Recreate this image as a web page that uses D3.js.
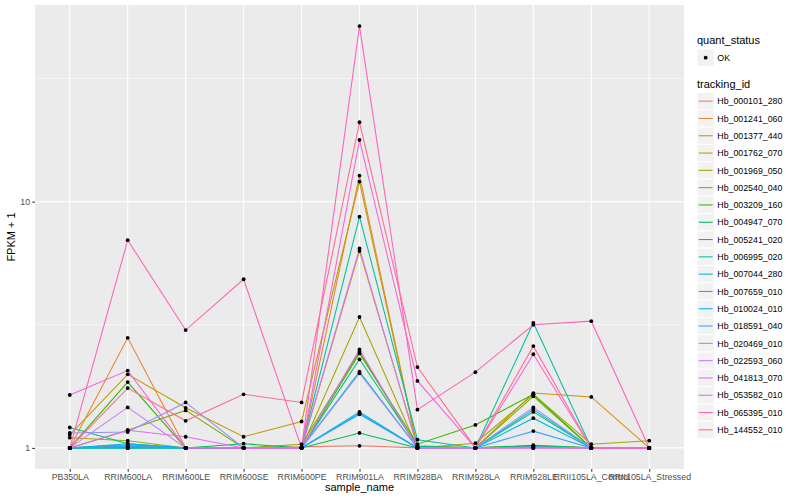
<!DOCTYPE html>
<html>
<head>
<meta charset="utf-8">
<script src="https://cdn.jsdelivr.net/npm/d3@7"></script>
<style>
  html, body { margin: 0; padding: 0; background: #fff; }
  svg text { font-family: "Liberation Sans", Arial, Helvetica, sans-serif; }
</style>
</head>
<body>
<svg id="chart" width="800" height="500"></svg>
<script>
// Samples along the x axis.
const samples = ['PB350LA', 'RRIM600LA', 'RRIM600LE', 'RRIM600SE', 'RRIM600PE', 'RRIM901LA',
  'RRIM928BA', 'RRIM928LA', 'RRIM928LE', 'RRII105LA_Control', 'RRII105LA_Stressed'];

const trackingIds = ['Hb_000101_280', 'Hb_001241_060', 'Hb_001377_440', 'Hb_001762_070', 'Hb_001969_050',
  'Hb_002540_040', 'Hb_003209_160', 'Hb_004947_070', 'Hb_005241_020', 'Hb_006995_020',
  'Hb_007044_280', 'Hb_007659_010', 'Hb_010024_010', 'Hb_018591_040', 'Hb_020469_010',
  'Hb_022593_060', 'Hb_041813_070', 'Hb_053582_010', 'Hb_065395_010', 'Hb_144552_010'];

// ggplot's default hue palette for 20 groups.
const trackingColors = ['#F8766D', '#EA8331', '#D89000', '#C09B00', '#A3A500', '#7CAE00', '#39B600',
  '#00BB4E', '#00BF7D', '#00C1A3', '#00BFC4', '#00BAE0', '#00B0F6', '#35A2FF', '#9590FF',
  '#C77CFF', '#E76BF3', '#FA62DB', '#FF62BC', '#FF6C91'];

// FPKM + 1, one row per tracking_id, one column per sample.
const fpkmPlusOne = [
  [1.00, 1.00, 1.00, 1.00, 1.01, 1.02, 1.00, 1.00, 1.00, 1.00, 1.00],
  [1.00, 2.80, 1.00, 1.00, 1.00, 12.76, 1.00, 1.00, 1.01, 1.00, 1.00],
  [1.00, 1.02, 1.00, 1.00, 1.00, 6.30, 1.02, 1.00, 1.67, 1.61, 1.00],
  [1.13, 1.99, 1.455, 1.11, 1.28, 12.06, 1.00, 1.00, 1.02, 1.00, 1.00],
  [1.10, 1.07, 1.00, 1.00, 1.00, 3.40, 1.00, 1.045, 1.65, 1.035, 1.07],
  [1.00, 1.18, 1.42, 1.00, 1.035, 2.46, 1.00, 1.00, 1.62, 1.00, 1.00],
  [1.00, 1.85, 1.00, 1.00, 1.00, 2.42, 1.035, 1.24, 1.65, 1.00, 1.00],
  [1.00, 1.00, 1.00, 1.04, 1.00, 1.15, 1.00, 1.00, 1.025, 1.00, 1.00],
  [1.21, 1.04, 1.00, 1.00, 1.00, 2.29, 1.016, 1.00, 1.40, 1.00, 1.00],
  [1.00, 1.00, 1.00, 1.00, 1.00, 8.69, 1.08, 1.00, 3.22, 1.00, 1.00],
  [1.00, 1.00, 1.00, 1.00, 1.00, 2.04, 1.00, 1.00, 1.43, 1.00, 1.00],
  [1.00, 1.04, 1.00, 1.00, 1.00, 1.40, 1.00, 1.00, 1.32, 1.00, 1.00],
  [1.00, 1.03, 1.00, 1.00, 1.00, 1.38, 1.00, 1.00, 1.01, 1.00, 1.00],
  [1.00, 1.016, 1.00, 1.00, 1.00, 1.37, 1.00, 1.00, 1.17, 1.00, 1.00],
  [1.15, 1.16, 1.53, 1.00, 1.00, 2.01, 1.00, 1.00, 1.46, 1.00, 1.00],
  [1.00, 1.46, 1.00, 1.00, 1.00, 6.45, 1.00, 1.00, 1.00, 1.00, 1.00],
  [1.00, 1.18, 1.11, 1.00, 1.00, 2.51, 1.00, 1.00, 1.00, 1.00, 1.00],
  [1.64, 2.06, 1.00, 1.00, 1.00, 17.8, 1.87, 1.00, 2.40, 1.00, 1.00],
  [1.00, 6.97, 3.01, 4.84, 1.00, 51.6, 1.43, 2.03, 3.16, 3.27, 1.00],
  [1.00, 1.75, 1.288, 1.65, 1.53, 21.0, 2.13, 1.00, 2.59, 1.00, 1.00]
];

const yTicks = [1, 10];
const yMinor = [Math.sqrt(10), Math.sqrt(1000)];

const svg = d3.select('#chart');
const panel = {left: 35, right: 684, top: 5, bottom: 469};

// Discrete x: 0.6 unit padding either side, like ggplot.
const xScale = d3.scalePoint().domain(samples)
  .range([panel.left, panel.right]).padding(0.6);

// Log y with 5% expansion in log space.
const allValues = fpkmPlusOne.flat();
const lo = Math.log10(d3.min(allValues)), hi = Math.log10(d3.max(allValues));
const pad = (hi - lo) * 0.05;
const yScale = d3.scaleLog().domain([Math.pow(10, lo - pad), Math.pow(10, hi + pad)])
  .range([panel.bottom, panel.top]);

// Panel background and grid.
svg.append('rect')
  .attr('x', panel.left).attr('y', panel.top)
  .attr('width', panel.right - panel.left).attr('height', panel.bottom - panel.top)
  .attr('fill', '#EBEBEB');

const grid = svg.append('g');
yMinor.filter(v => yScale(v) > panel.top).forEach(v => {
  grid.append('line')
    .attr('x1', panel.left).attr('x2', panel.right)
    .attr('y1', yScale(v)).attr('y2', yScale(v))
    .attr('stroke', '#fff').attr('stroke-width', 0.55);
});
yTicks.forEach(v => {
  grid.append('line')
    .attr('x1', panel.left).attr('x2', panel.right)
    .attr('y1', yScale(v)).attr('y2', yScale(v))
    .attr('stroke', '#fff').attr('stroke-width', 1.07);
});
samples.forEach(s => {
  grid.append('line')
    .attr('x1', xScale(s)).attr('x2', xScale(s))
    .attr('y1', panel.top).attr('y2', panel.bottom)
    .attr('stroke', '#fff').attr('stroke-width', 1.07);
});

// Lines, one per tracking_id.
const line = d3.line()
  .x((d, i) => xScale(samples[i]))
  .y(d => yScale(d));

const lines = svg.append('g');
fpkmPlusOne.forEach((row, n) => {
  lines.append('path').datum(row)
    .attr('d', line)
    .attr('fill', 'none')
    .attr('stroke', trackingColors[n])
    .attr('stroke-width', 1.07);
});

// Points on top.
const points = svg.append('g');
fpkmPlusOne.forEach(row => {
  row.forEach((v, i) => {
    points.append('circle')
      .attr('cx', xScale(samples[i])).attr('cy', yScale(v))
      .attr('r', 1.9).attr('fill', '#000');
  });
});

// Axes.
const yAxis = d3.axisLeft(yScale).tickValues(yTicks).tickFormat(d3.format('d'))
  .tickSize(2.75).tickPadding(2.2);
const yG = svg.append('g').attr('transform', `translate(${panel.left},0)`).call(yAxis);
const xAxis = d3.axisBottom(xScale).tickSize(2.75).tickPadding(2.2);
const xG = svg.append('g').attr('transform', `translate(0,${panel.bottom})`).call(xAxis);
[yG, xG].forEach(g => {
  g.select('.domain').remove();
  g.selectAll('.tick line').attr('stroke', '#333').attr('stroke-width', 1.07);
  g.selectAll('.tick text').attr('fill', '#4D4D4D').attr('font-size', 8.8)
    .style('font-family', '"Liberation Sans", Arial, sans-serif');
});

// Axis titles.
svg.append('text')
  .attr('x', (panel.left + panel.right) / 2).attr('y', 491)
  .attr('text-anchor', 'middle').attr('font-size', 11).attr('fill', '#000')
  .text('sample_name');
svg.append('text')
  .attr('transform', `translate(15,${(panel.top + panel.bottom) / 2}) rotate(-90)`)
  .attr('text-anchor', 'middle').attr('font-size', 11).attr('fill', '#000')
  .text('FPKM + 1');

// Legends.
const legend = svg.append('g').attr('transform', 'translate(697,0)');
const keySize = 17.3;

legend.append('text').attr('x', 0).attr('y', 44).attr('font-size', 11).text('quant_status');
legend.append('rect').attr('x', 0).attr('y', 49).attr('width', keySize).attr('height', keySize)
  .attr('fill', '#F2F2F2').attr('stroke', '#fff');
legend.append('circle').attr('cx', keySize / 2).attr('cy', 49 + keySize / 2).attr('r', 1.9).attr('fill', '#000');
legend.append('text').attr('x', keySize + 3).attr('y', 49 + keySize / 2 + 3.2)
  .attr('font-size', 8.8).text('OK');

legend.append('text').attr('x', 0).attr('y', 88).attr('font-size', 11).text('tracking_id');
const items = legend.selectAll('g.item').data(trackingIds).enter().append('g')
  .attr('class', 'item')
  .attr('transform', (d, i) => `translate(0,${92.5 + i * keySize})`);
items.append('rect').attr('width', keySize).attr('height', keySize)
  .attr('fill', '#F2F2F2').attr('stroke', '#fff');
items.append('line')
  .attr('x1', 1.7).attr('x2', keySize - 1.7)
  .attr('y1', keySize / 2).attr('y2', keySize / 2)
  .attr('stroke', (d, i) => trackingColors[i]).attr('stroke-width', 1.07);
items.append('text').attr('x', keySize + 3).attr('y', keySize / 2 + 3.2)
  .attr('font-size', 8.8).text(d => d);
</script>
</body>
</html>
